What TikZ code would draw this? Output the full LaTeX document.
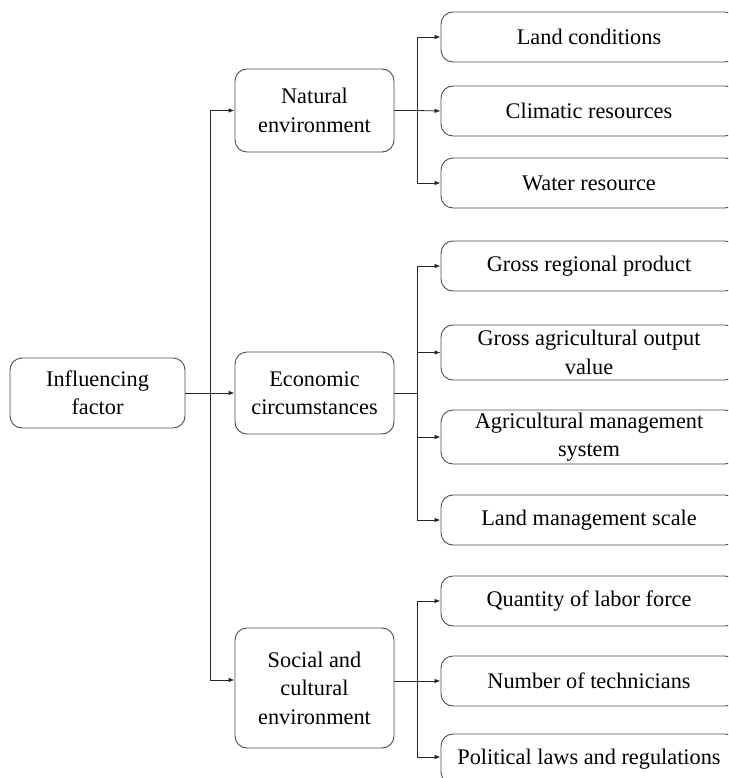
\documentclass[tikz,border=0pt]{standalone}
\usepackage{fontspec}
\setmainfont{Liberation Serif}
\usetikzlibrary{arrows.meta}
\begin{document}
\begin{tikzpicture}[x=1pt,y=1pt,
  box/.style={draw=black!70, line width=0.9pt, rounded corners=12pt, align=center, inner sep=0pt,
    font=\fontsize{22.3}{28.5}\selectfont},
  lbox/.style={box, minimum width=159pt},
  rbox/.style={box, minimum width=296pt, minimum height=50pt},
  conn/.style={draw=black!85, line width=0.8pt},
  arr/.style={conn, -{Latex[length=6pt,width=4.5pt]}}]
\useasboundingbox (0,0) rectangle (728,-778);
\clip (0,0) rectangle (728,-778);
% level 0
\node[box, minimum width=175pt, minimum height=70pt] (inf) at (97.5,-393) {Influencing\\factor};
% level 1
\node[lbox, minimum height=83pt] (nat) at (314.5,-110.5) {Natural\\environment};
\node[lbox, minimum height=82pt] (eco) at (314.5,-393) {Economic\\circumstances};
\node[lbox, minimum height=120pt] (soc) at (314.5,-688) {Social and\\cultural\\environment};
% level 2
\node[rbox] (l1) at (589,-37) {Land conditions};
\node[rbox] (l2) at (589,-111) {Climatic resources};
\node[rbox] (l3) at (589,-183) {Water resource};
\node[rbox] (e1) at (589,-266) {Gross regional product};
\node[rbox, minimum height=55pt] (e2) at (589,-352.5) {Gross agricultural output\\value};
\node[rbox, minimum height=54pt] (e3) at (589,-437) {Agricultural management\\system};
\node[rbox] (e4) at (589,-520) {Land management scale};
\node[rbox] (s1) at (589,-601) {Quantity of labor force};
\node[rbox] (s2) at (589,-681) {Number of technicians};
\node[rbox] (s3) at (589,-759) {Political laws and regulations};
% junctions
\coordinate (j0) at (210,-393);
\coordinate (j0s) at (210,-680);
\coordinate (jn) at (417,-110.5);
\coordinate (je) at (417,-393);
\coordinate (js) at (417,-681);
% connectors level 0 -> 1
\draw[conn] (inf.east) -- (j0);
\draw[arr] (j0) |- (nat.west);
\draw[arr] (j0) -- (eco.west);
\draw[arr] (j0) -- (j0s) -- (soc.west |- j0s);
% natural
\draw[conn] (nat.east) -- (jn);
\draw[arr] (jn) |- (l1.west);
\draw[arr] (jn) -- (l2.west);
\draw[arr] (jn) |- (l3.west);
% economic
\draw[conn] (eco.east) -- (je);
\draw[arr] (je) |- (e1.west);
\draw[arr] (je) |- (e2.west);
\draw[arr] (je) |- (e3.west);
\draw[arr] (je) |- (e4.west);
% social
\draw[conn] (soc.east |- js) -- (js);
\draw[arr] (js) |- (s1.west);
\draw[arr] (js) -- (s2.west);
\draw[arr] (js) |- ([yshift=2pt]s3.west);
\end{tikzpicture}
\end{document}
